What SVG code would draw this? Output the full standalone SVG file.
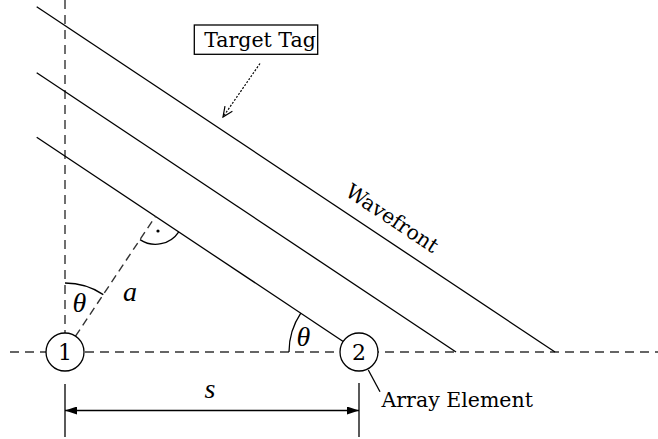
<svg xmlns="http://www.w3.org/2000/svg" width="658" height="439" viewBox="0 0 658 439">
<style>
.ln{stroke:#000;stroke-width:1.3;fill:none}
.dash{stroke:#333;stroke-width:1.4;fill:none;stroke-dasharray:9 6}
.lbl{font-family:"DejaVu Serif","Liberation Serif",serif;font-size:20.5px;fill:#000}
.num{font-family:"DejaVu Serif","Liberation Serif",serif;font-size:22px;fill:#000}
.math{font-family:"Liberation Serif","DejaVu Serif",serif;font-style:italic;font-size:28px;fill:#000}
.node circle{fill:#fff;stroke:#000;stroke-width:1.3}
</style>
<defs>
<marker id="fa" viewBox="0 0 12 8" refX="12" refY="4" markerWidth="12" markerHeight="8" markerUnits="userSpaceOnUse" orient="auto-start-reverse">
<path d="M0,0 L12,4 L0,8 Z" fill="#000"/>
</marker>
<marker id="oa" viewBox="0 0 12 12" refX="11" refY="6" markerWidth="12" markerHeight="12" markerUnits="userSpaceOnUse" orient="auto">
<path d="M1,1.5 L11,6 L1,10.5" fill="none" stroke="#000" stroke-width="1.2"/>
</marker>
</defs>
<rect width="658" height="439" fill="#fff"/>
<g id="connectors">
<line class="dash" x1="10" y1="352" x2="658" y2="352"/>
<line class="dash" x1="65" y1="0" x2="65" y2="333"/>
<line class="ln" x1="36.7" y1="6.7" x2="555" y2="352"/>
<line class="ln" x1="36.7" y1="72.7" x2="456" y2="352"/>
<line class="ln" x1="36.7" y1="137.3" x2="343.2" y2="341.5"/>
<line class="dash" style="stroke-dasharray:8 5" x1="75.5" y1="336.2" x2="155.5" y2="216.3"/>
<path class="ln" d="M140,239.6 A28,28 0 0 0 178.8,231.8"/>
<circle cx="158" cy="231" r="1.6" fill="#000"/>
<path class="ln" d="M65,283 A69,69 0 0 1 103.3,294.6"/>
<path class="ln" d="M289,352 A70,70 0 0 1 300.8,313.2"/>
<line x1="260" y1="63.5" x2="223" y2="117" stroke="#000" stroke-width="1.2" stroke-dasharray="2 1.6" marker-end="url(#oa)"/>
<line class="ln" x1="368.3" y1="370" x2="380" y2="391.7"/>
<line class="ln" x1="65" y1="384" x2="65" y2="437"/>
<line class="ln" x1="359" y1="383" x2="359" y2="437"/>
<line class="ln" x1="65" y1="410.5" x2="359" y2="410.5" marker-start="url(#fa)" marker-end="url(#fa)"/>
</g>
<g id="node1" class="node">
<circle cx="65" cy="352" r="19"/>
<text class="num" x="65" y="360" text-anchor="middle">1</text>
</g>
<g id="node2" class="node">
<circle cx="359" cy="352" r="19"/>
<text class="num" x="359" y="360" text-anchor="middle">2</text>
</g>
<g id="target-tag">
<rect x="194.3" y="25" width="123.4" height="29.3" fill="#fff" stroke="#000" stroke-width="1.3"/>
<text class="lbl" x="260" y="47" text-anchor="middle">Target Tag</text>
</g>
<text class="lbl" x="388.3" y="224.2" text-anchor="middle" transform="rotate(33.69 388.3 224.2)">Wavefront</text>
<text class="lbl" x="381.5" y="406.5">Array Element</text>
<text class="math" x="79.5" y="311.5" text-anchor="middle">θ</text>
<text class="math" x="303.5" y="345.5" text-anchor="middle">θ</text>
<text class="math" x="130" y="301" text-anchor="middle">a</text>
<text class="math" x="210" y="398" text-anchor="middle">s</text>
</svg>
